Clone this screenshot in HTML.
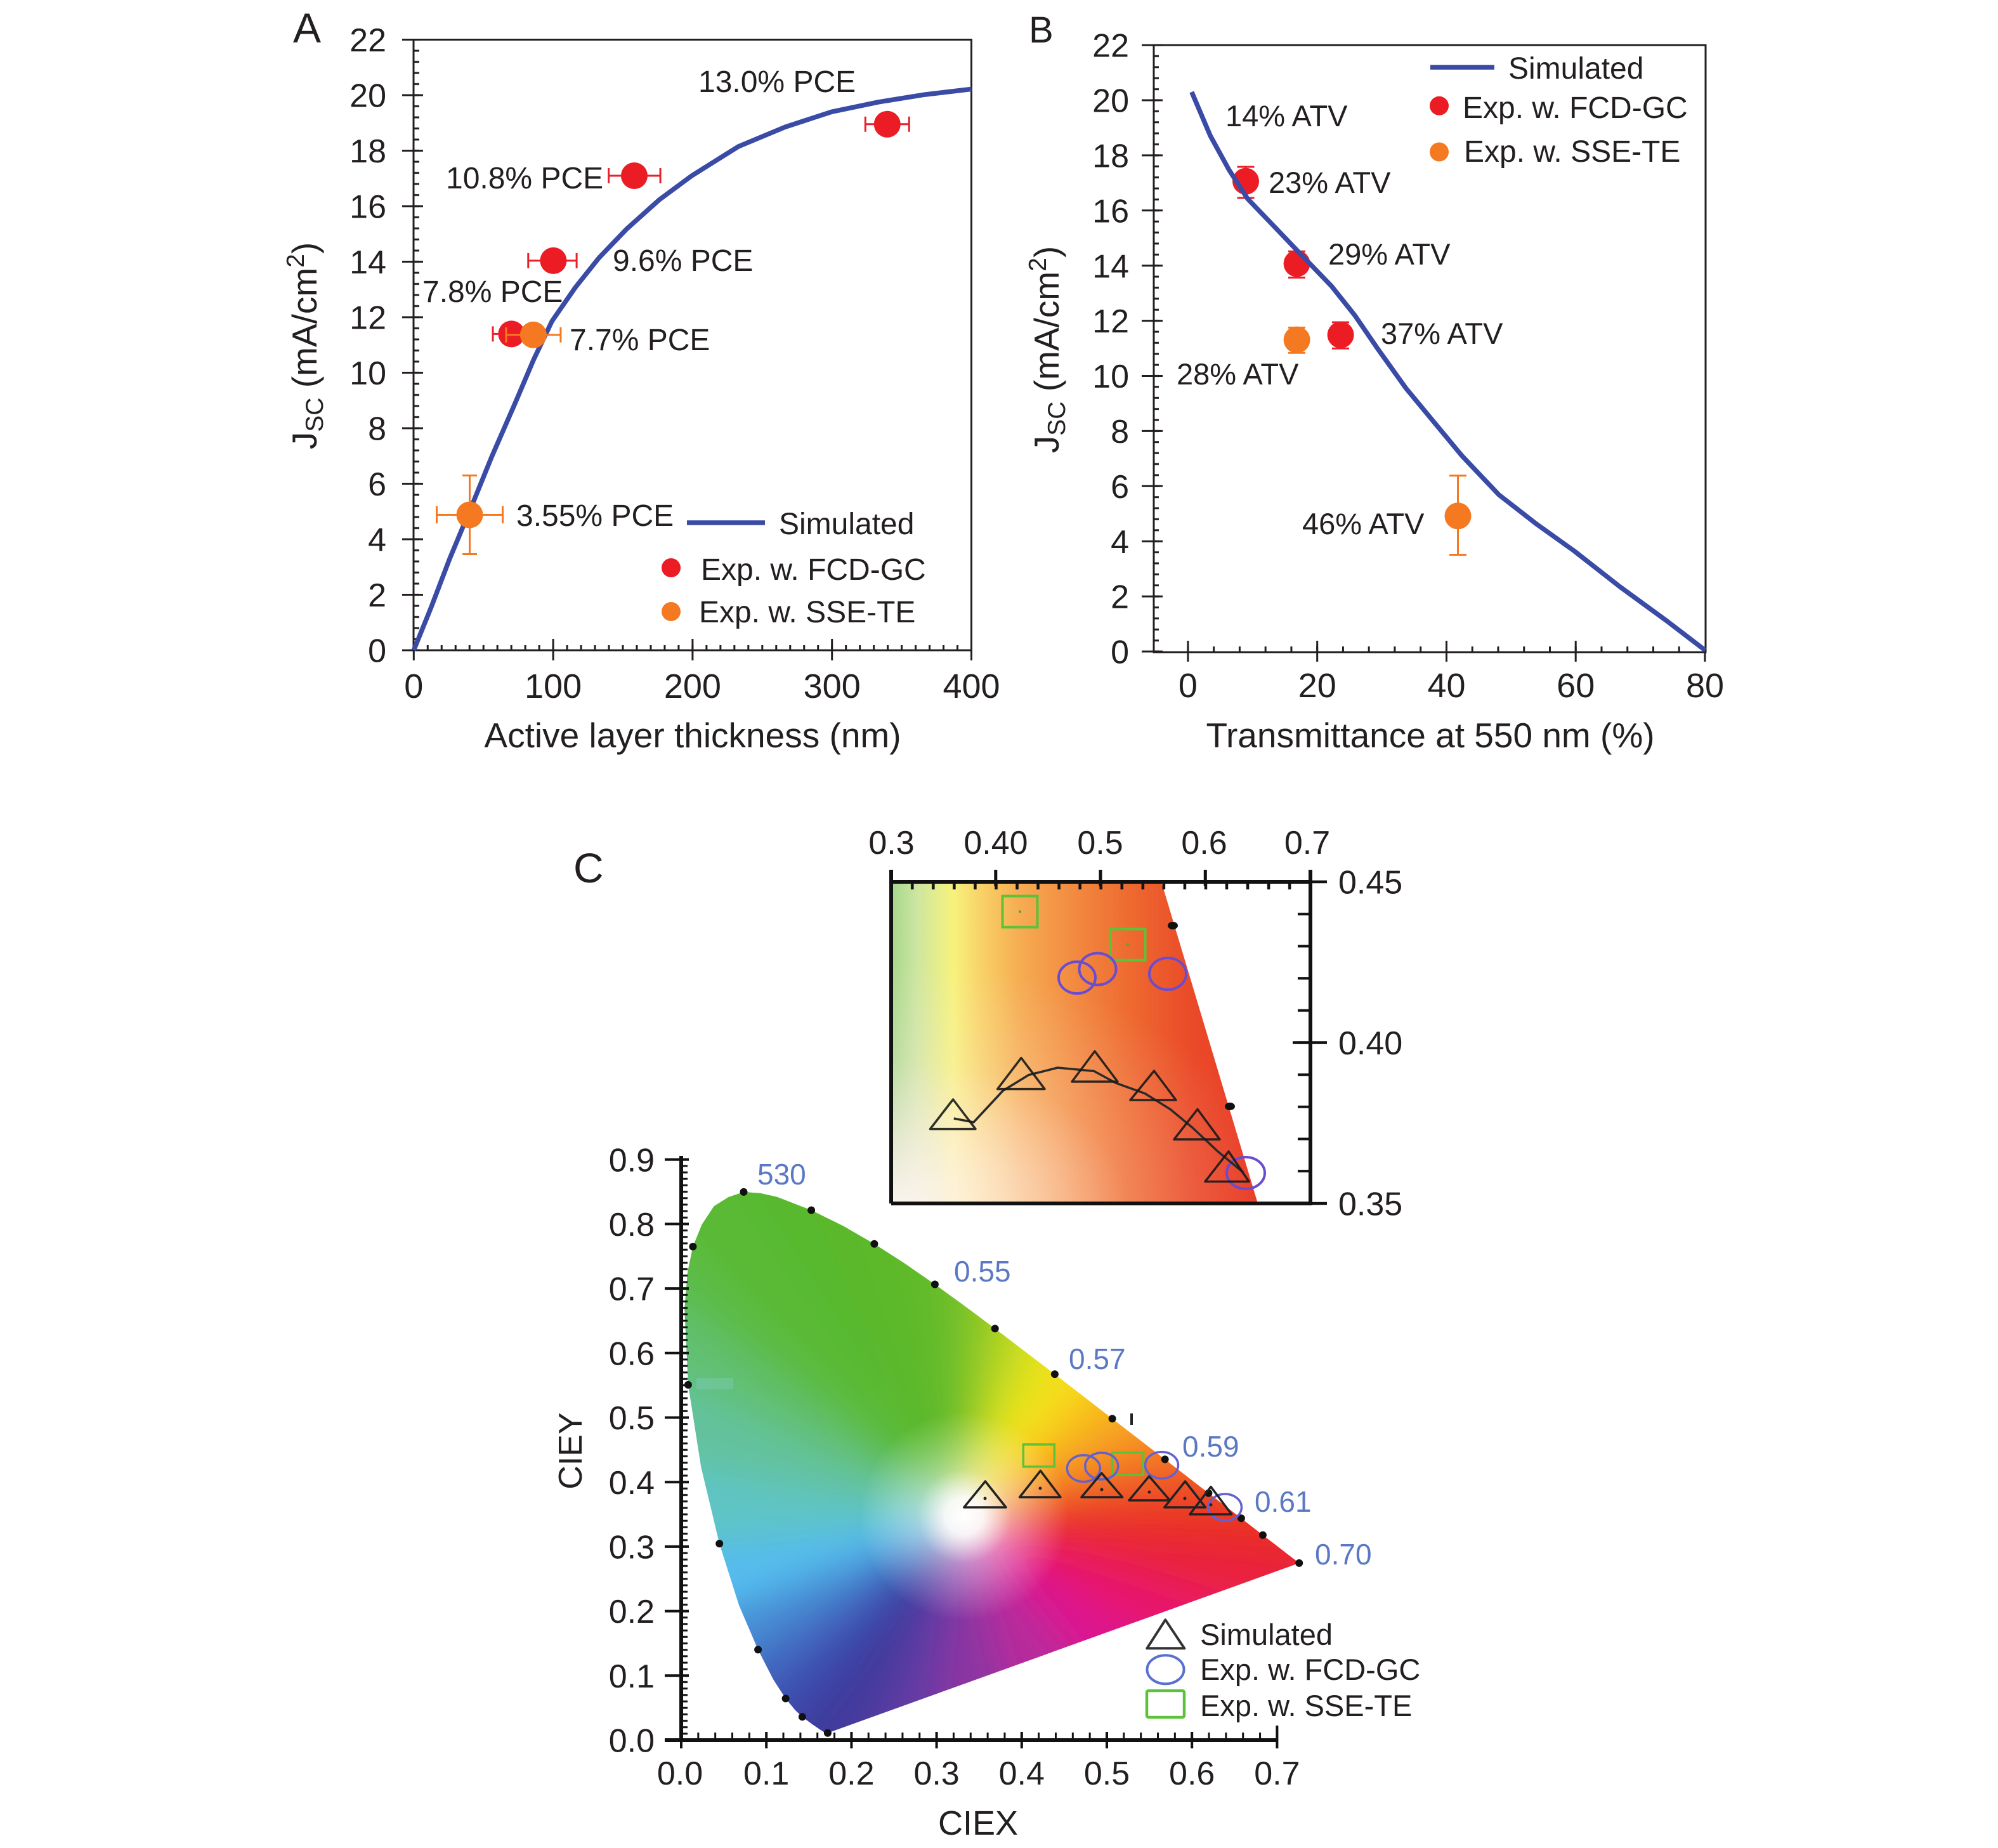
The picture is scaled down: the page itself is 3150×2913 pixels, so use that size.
<!DOCTYPE html>
<html><head><meta charset="utf-8"><style>
html,body{margin:0;padding:0;background:#fff;width:3150px;height:2913px;overflow:hidden}
svg{display:block}
</style></head><body>
<svg width="3150" height="2913" viewBox="0 0 3150 2913" xmlns="http://www.w3.org/2000/svg" font-family="'Liberation Sans', Arial, sans-serif" fill="#231f20">
<defs>
<pattern id="pAy" patternUnits="userSpaceOnUse" x="652" y="53.75" width="10" height="17.5"><rect x="0" y="7.25" width="10" height="3" fill="#231f20"/></pattern>
<pattern id="pAx" patternUnits="userSpaceOnUse" x="641.31" y="0" width="21.98" height="20"><rect x="9.49" y="0" width="3" height="20" fill="#231f20"/></pattern>
<pattern id="pBy" patternUnits="userSpaceOnUse" x="1819" y="62.41" width="10" height="17.38"><rect x="0" y="7.19" width="10" height="3" fill="#231f20"/></pattern>
<pattern id="pBx" patternUnits="userSpaceOnUse" x="1852.52" y="0" width="40.756" height="20"><rect x="18.878" y="0" width="3" height="20" fill="#231f20"/></pattern>
<pattern id="pIt" patternUnits="userSpaceOnUse" x="1388.475" y="0" width="33.05" height="20"><rect x="14.5" y="0" width="4.5" height="20" fill="#111"/></pattern>
<pattern id="pIr" patternUnits="userSpaceOnUse" x="0" y="1364.675" width="30" height="50.65"><rect x="0" y="23.5" width="30" height="4" fill="#111"/></pattern>
<pattern id="pCy" patternUnits="userSpaceOnUse" x="0" y="2737.915" width="20" height="10.17"><rect x="0" y="3.585" width="20" height="3" fill="#111"/></pattern>
<pattern id="pCx" patternUnits="userSpaceOnUse" x="1060.58" y="0" width="26.84" height="20"><rect x="11.92" y="0" width="3" height="20" fill="#111"/></pattern>
<clipPath id="loc"><polygon points="1304.9,2731.8 1301.3,2731.7 1298,2729.8 1292,2725.7 1281.7,2718.7 1264.9,2706.3 1253.7,2695.8 1238.6,2677.4 1219.3,2647.6 1195.1,2600.4 1165.1,2530.4 1134.2,2433.3 1105.2,2312.2 1084.9,2182.9 1079.2,2063.1 1084,2005 1092.4,1965 1106.5,1930.2 1125.6,1901.3 1148.3,1887 1172.5,1878.9 1198.6,1880.8 1225.4,1886.7 1279.1,1907.6 1329.8,1932.6 1378.4,1960.7 1426.5,1991.6 1473.9,2024.5 1521.3,2058.9 1568.7,2094.3 1615.9,2130.2 1662.9,2166.1 1708.9,2201.6 1753.6,2236.2 1796.4,2269.3 1836.7,2300.4 1873.4,2328.9 1905.4,2353.6 1933.5,2375.3 1956.9,2393.2 1990.9,2419.7 2012.7,2436.4 2027.4,2447.9 2036.7,2455 2048.2,2463.9"/></clipPath>
<clipPath id="insclip"><polygon points="1405,1390 1831,1390 1983,1897 1405,1897"/></clipPath>
<filter id="blr" filterUnits="userSpaceOnUse" x="700" y="1500" width="1800" height="1500"><feGaussianBlur stdDeviation="28"/></filter>
<radialGradient id="wg" gradientUnits="userSpaceOnUse" cx="1520" cy="2390" r="165">
<stop offset="0" stop-color="#fff" stop-opacity="1"/>
<stop offset="0.18" stop-color="#fff" stop-opacity="0.92"/>
<stop offset="0.45" stop-color="#fff" stop-opacity="0.42"/>
<stop offset="1" stop-color="#fff" stop-opacity="0"/>
</radialGradient>
<linearGradient id="insH" gradientUnits="userSpaceOnUse" x1="1405" y1="0" x2="1983" y2="0">
<stop offset="0" stop-color="#a6d68c"/>
<stop offset="0.07" stop-color="#cde6a0"/>
<stop offset="0.17" stop-color="#f7f27c"/>
<stop offset="0.24" stop-color="#f8d468"/>
<stop offset="0.35" stop-color="#f6ac52"/>
<stop offset="0.5" stop-color="#f28a40"/>
<stop offset="0.65" stop-color="#ee6a30"/>
<stop offset="0.82" stop-color="#ea4a28"/>
<stop offset="1" stop-color="#e83824"/>
</linearGradient>
<radialGradient id="insW" gradientUnits="userSpaceOnUse" cx="1405" cy="1900" r="620" gradientTransform="translate(1405 1900) scale(1 0.62) translate(-1405 -1900)">
<stop offset="0" stop-color="#fff6f4" stop-opacity="0.95"/>
<stop offset="0.3" stop-color="#fff0f0" stop-opacity="0.62"/>
<stop offset="0.6" stop-color="#ffecec" stop-opacity="0.2"/>
<stop offset="1" stop-color="#ffecec" stop-opacity="0"/>
</radialGradient>
</defs>

<!-- ================= PANEL A ================= -->
<text x="462" y="67" font-size="66">A</text>
<g stroke="#231f20" stroke-width="3" fill="none">
<rect x="652" y="62.5" width="879.5" height="962.5"/>
<path d="M634 1025H667M634 937.5H667M634 850H667M634 762.5H667M634 675H667M634 587.5H667M634 500H667M634 412.5H667M634 325H667M634 237.5H667M634 150H667M634 62.5H667"/>
<path d="M652.3 1025V1041M872.1 1007V1041M1091.9 1007V1041M1311.7 1007V1041M1531.5 1025V1041"/>
</g>
<rect x="652" y="64" width="9" height="960" fill="url(#pAy)"/>
<rect x="655" y="1017" width="875" height="8" fill="url(#pAx)"/>
<g font-size="52" text-anchor="end">
<text x="609" y="1043.6">0</text><text x="609" y="956.1">2</text><text x="609" y="868.6">4</text><text x="609" y="781.1">6</text><text x="609" y="693.6">8</text><text x="609" y="606.1">10</text><text x="609" y="518.6">12</text><text x="609" y="431.1">14</text><text x="609" y="343.6">16</text><text x="609" y="256.1">18</text><text x="609" y="168.6">20</text><text x="609" y="81.1">22</text>
</g>
<g font-size="54" text-anchor="middle">
<text x="652.3" y="1100">0</text><text x="872.1" y="1100">100</text><text x="1091.9" y="1100">200</text><text x="1311.7" y="1100">300</text><text x="1531.5" y="1100">400</text>
</g>
<text x="1092" y="1178" font-size="55" text-anchor="middle">Active layer thickness (nm)</text>
<text transform="translate(499,545) rotate(-90)" font-size="55" text-anchor="middle">J<tspan font-size="39" dy="10">SC</tspan><tspan dy="-10"> (mA/cm</tspan><tspan font-size="39" dy="-20">2</tspan><tspan dy="20">)</tspan></text>

<polyline fill="none" stroke="#3a4ba6" stroke-width="7.5" stroke-linejoin="round" points="652.3,1025 679.6,957.6 708.8,881.1 745.5,793.1 775,720.5 811.7,636.5 841.1,567.4 870.3,506.1 907.3,452.8 944,406.8 988,360.9 1039.4,314.9 1090.8,276.9 1164.2,230.9 1237.6,200.3 1311,176.3 1384.7,160.9 1458.1,149.1 1531.5,140.4"/>

<g stroke="#e8202a" stroke-width="3" fill="none">
<path d="M1364.3 195.8H1433.3M1364.3 183.8V207.8M1433.3 183.8V207.8"/>
<path d="M959.7 277H1041.1M959.7 265V289M1041.1 265V289"/>
<path d="M832.8 410.9H909.1M832.8 398.9V422.9M909.1 398.9V422.9"/>
<path d="M777 526.4H835.8M777 514.4V538.4"/>
</g>
<g fill="#ec1c24">
<circle cx="1398.8" cy="195.8" r="21"/>
<circle cx="1000" cy="277" r="21"/>
<circle cx="872.4" cy="410.9" r="21"/>
<circle cx="806.4" cy="526.4" r="21"/>
</g>
<g stroke="#f47920" stroke-width="3" fill="none">
<path d="M797.9 527.9H883.9M797.9 515.9V539.9M883.9 515.9V539.9"/>
<path d="M688.5 811.5H792.5M688.5 798V825M792.5 798V825M740.5 749.5V873.5M729 749.5H752M729 873.5H752"/>
</g>
<g fill="#f47920">
<circle cx="840.9" cy="527.9" r="21"/>
<circle cx="740.5" cy="811.5" r="21"/>
</g>
<g font-size="48">
<text x="1101" y="145">13.0% PCE</text>
<text x="703" y="297">10.8% PCE</text>
<text x="966" y="427">9.6% PCE</text>
<text x="666" y="476">7.8% PCE</text>
<text x="898" y="552">7.7% PCE</text>
<text x="814" y="829">3.55% PCE</text>
</g>
<line x1="1083" y1="824" x2="1206" y2="824" stroke="#3a4ba6" stroke-width="7.5"/>
<circle cx="1058" cy="895" r="15" fill="#ec1c24"/>
<circle cx="1058" cy="964" r="15" fill="#f47920"/>
<g font-size="48">
<text x="1228" y="842">Simulated</text>
<text x="1105" y="914">Exp. w. FCD-GC</text>
<text x="1102" y="981">Exp. w. SSE-TE</text>
</g>

<!-- ================= PANEL B ================= -->
<text x="1622" y="67" font-size="58">B</text>
<g stroke="#231f20" stroke-width="3" fill="none">
<rect x="1819" y="71.1" width="870" height="956.9"/>
<path d="M1800 1027H1833M1800 940.1H1833M1800 853.2H1833M1800 766.3H1833M1800 679.4H1833M1800 592.5H1833M1800 505.6H1833M1800 418.7H1833M1800 331.8H1833M1800 244.9H1833M1800 158H1833M1800 71.1H1833"/>
<path d="M1872.9 1010V1043M2076.7 1010V1043M2280.5 1010V1043M2484.2 1010V1043M2688 1028V1043"/>
</g>
<rect x="1819" y="73" width="8" height="953" fill="url(#pBy)"/>
<rect x="1850" y="1019" width="837" height="9" fill="url(#pBx)"/>
<g font-size="52" text-anchor="end">
<text x="1780" y="1045.6">0</text><text x="1780" y="958.7">2</text><text x="1780" y="871.8">4</text><text x="1780" y="784.9">6</text><text x="1780" y="698">8</text><text x="1780" y="611.1">10</text><text x="1780" y="524.2">12</text><text x="1780" y="437.3">14</text><text x="1780" y="350.4">16</text><text x="1780" y="263.5">18</text><text x="1780" y="176.6">20</text><text x="1780" y="89.7">22</text>
</g>
<g font-size="54" text-anchor="middle">
<text x="1872.9" y="1099">0</text><text x="2076.7" y="1099">20</text><text x="2280.5" y="1099">40</text><text x="2484.2" y="1099">60</text><text x="2688" y="1099">80</text>
</g>
<text x="2255" y="1178" font-size="55" text-anchor="middle">Transmittance at 550 nm (%)</text>
<text transform="translate(1669,551) rotate(-90)" font-size="55" text-anchor="middle">J<tspan font-size="39" dy="10">SC</tspan><tspan dy="-10"> (mA/cm</tspan><tspan font-size="39" dy="-20">2</tspan><tspan dy="20">)</tspan></text>

<g stroke="#e8202a" stroke-width="3" fill="none">
<path d="M1964 263V312M1950.5 263H1977.5M1950.5 312H1977.5"/>
<path d="M2044.6 396.3V437.6M2031 396.3H2058M2031 437.6H2058"/>
<path d="M2113.6 508V549.3M2100 508H2127M2100 549.3H2127"/>
</g>
<g fill="#ec1c24">
<circle cx="1964" cy="285.7" r="21"/>
<circle cx="2044.6" cy="415.5" r="21"/>
<circle cx="2113.6" cy="527.9" r="21"/>
</g>
<g stroke="#f47920" stroke-width="3" fill="none">
<path d="M2044.6 516.4V556.2M2031 516.4H2058M2031 556.2H2058"/>
<path d="M2298.5 749.8V874.5M2285 749.8H2312M2285 874.5H2312"/>
</g>
<g fill="#f47920">
<circle cx="2044.6" cy="535.6" r="21"/>
<circle cx="2298.5" cy="813.3" r="21"/>
</g>
<polyline fill="none" stroke="#3a4ba6" stroke-width="7.5" stroke-linejoin="round" points="1878.8,145 1908.2,214.1 1937.5,267.5 1966.8,313.1 2011,359.2 2055,405.2 2099.1,450.9 2135.8,496.9 2172.5,550.4 2216.3,611.6 2260.6,665.1 2304.9,718.5 2363,779.8 2422.1,825.8 2481.2,868 2554.5,925.3 2627.9,978.8 2688,1024.8"/>
<g font-size="47">
<text x="1932" y="199">14% ATV</text>
<text x="2000" y="304">23% ATV</text>
<text x="2094" y="417">29% ATV</text>
<text x="2177" y="542">37% ATV</text>
<text x="1855" y="606">28% ATV</text>
<text x="2053" y="842">46% ATV</text>
</g>
<line x1="2255" y1="106" x2="2356" y2="106" stroke="#3a4ba6" stroke-width="7.5"/>
<circle cx="2269" cy="166.8" r="15" fill="#ec1c24"/>
<circle cx="2269" cy="239.5" r="15" fill="#f47920"/>
<g font-size="48">
<text x="2378" y="124">Simulated</text>
<text x="2306" y="186">Exp. w. FCD-GC</text>
<text x="2308" y="255">Exp. w. SSE-TE</text>
</g>

<!-- ================= PANEL C ================= -->
<text x="904" y="1391" font-size="66">C</text>

<g clip-path="url(#loc)">
<g filter="url(#blr)">
<polygon points="1515,2392 1199.9,2901.7 1165.1,2882.1" fill="#3b3a9a"/>
<polygon points="1515,2392 1165.1,2882.1 1139.9,2863.5" fill="#3b3ea0"/>
<polygon points="1515,2392 1139.9,2863.5 1100.4,2820.1" fill="#3c46aa"/>
<polygon points="1515,2392 1100.4,2820.1 1071.5,2775.4" fill="#3e54b4"/>
<polygon points="1515,2392 1071.5,2775.4 1035.2,2704.6" fill="#4268c0"/>
<polygon points="1515,2392 1035.2,2704.6 990.2,2599.6" fill="#468cd4"/>
<polygon points="1515,2392 990.2,2599.6 943.8,2454" fill="#54bcee"/>
<polygon points="1515,2392 943.8,2454 900.3,2272.3" fill="#5ec4c4"/>
<polygon points="1515,2392 900.3,2272.3 869.9,2078.4" fill="#64c29c"/>
<polygon points="1515,2392 869.9,2078.4 861.3,1898.7" fill="#62c072"/>
<polygon points="1515,2392 861.3,1898.7 881.1,1751.5" fill="#5cbc46"/>
<polygon points="1515,2392 881.1,1751.5 1001.3,1622.4" fill="#5aba34"/>
<polygon points="1515,2392 1001.3,1622.4 1161.2,1665.4" fill="#58b82e"/>
<polygon points="1515,2392 1161.2,1665.4 1310.1,1745.1" fill="#5ab82c"/>
<polygon points="1515,2392 1310.1,1745.1 1453.4,1840.8" fill="#5eba2c"/>
<polygon points="1515,2392 1453.4,1840.8 1524.5,1892.4" fill="#6cbe2a"/>
<polygon points="1515,2392 1524.5,1892.4 1595.6,1945.5" fill="#8cc826"/>
<polygon points="1515,2392 1595.6,1945.5 1666.4,1999.3" fill="#bcd822"/>
<polygon points="1515,2392 1666.4,1999.3 1736.9,2053.2" fill="#e6e41e"/>
<polygon points="1515,2392 1736.9,2053.2 1805.9,2106.4" fill="#f8dc1c"/>
<polygon points="1515,2392 1805.9,2106.4 1872.9,2158.3" fill="#f8bc1e"/>
<polygon points="1515,2392 1872.9,2158.3 1937.1,2208" fill="#f6a020"/>
<polygon points="1515,2392 1937.1,2208 1997.6,2254.6" fill="#f48024"/>
<polygon points="1515,2392 1997.6,2254.6 2052.6,2297.4" fill="#f06426"/>
<polygon points="1515,2392 2052.6,2297.4 2100.6,2334.4" fill="#ee5026"/>
<polygon points="1515,2392 2100.6,2334.4 2177.9,2393.8" fill="#eb3c26"/>
<polygon points="1515,2392 2177.9,2393.8 2228.9,2433.6" fill="#e92e26"/>
<polygon points="1515,2392 2228.9,2433.6 2314.8,2499.9" fill="#e82626"/>
<polygon points="1515,2392 2314.8,2499.9 2092.5,2580" fill="#ea2040"/>
<polygon points="1515,2392 2092.5,2580 1912.5,2644.9" fill="#e8166c"/>
<polygon points="1515,2392 1912.5,2644.9 1762.5,2698.9" fill="#dc1490"/>
<polygon points="1515,2392 1762.5,2698.9 1612.5,2752.9" fill="#b82a9c"/>
<polygon points="1515,2392 1612.5,2752.9 1462.5,2807.1" fill="#8c36a2"/>
<polygon points="1515,2392 1462.5,2807.1 1327.5,2855.7" fill="#623aa4"/>
<polygon points="1515,2392 1327.5,2855.7 1199.9,2901.7" fill="#443a9e"/>
</g>
<circle cx="1520" cy="2390" r="165" fill="url(#wg)"/>
<rect x="1098" y="2172" width="58" height="18" fill="#9ad6e6" opacity="0.22"/>
</g>
<g fill="#111">
<circle cx="1304.9" cy="2731.8" r="6"/><circle cx="1264.9" cy="2706.3" r="6"/><circle cx="1238.6" cy="2677.4" r="6"/><circle cx="1195.1" cy="2600.4" r="6"/><circle cx="1134.2" cy="2433.3" r="6"/><circle cx="1084.9" cy="2182.9" r="6"/><circle cx="1092.4" cy="1965" r="6"/><circle cx="1172.5" cy="1878.9" r="6"/><circle cx="1279.1" cy="1907.6" r="6"/><circle cx="1378.4" cy="1960.7" r="6"/><circle cx="1473.9" cy="2024.5" r="6"/><circle cx="1568.7" cy="2094.3" r="6"/><circle cx="1662.9" cy="2166.1" r="6"/><circle cx="1753.6" cy="2236.2" r="6"/><circle cx="1836.7" cy="2300.4" r="6"/><circle cx="1905.4" cy="2353.6" r="6"/><circle cx="1956.9" cy="2393.2" r="6"/><circle cx="1990.9" cy="2419.7" r="6"/><circle cx="2048.2" cy="2463.9" r="6"/>
</g>
<line x1="1784" y1="2228" x2="1784" y2="2246" stroke="#222" stroke-width="4"/>

<g fill="none" stroke="#5cc23a" stroke-width="3.5">
<rect x="1613.3" y="2276.9" width="49" height="35"/>
<rect x="1753.5" y="2290" width="49" height="35"/>
</g>
<g fill="none" stroke="#6460d0" stroke-width="3.5">
<ellipse cx="1708.4" cy="2314.7" rx="26" ry="21"/>
<ellipse cx="1736.8" cy="2311" rx="26" ry="21"/>
<ellipse cx="1831.5" cy="2309.6" rx="26" ry="21"/>
<ellipse cx="1931.4" cy="2376" rx="26" ry="21"/>
</g>
<g fill="none" stroke="#222" stroke-width="3.5" stroke-linejoin="round">
<polygon points="1553.4,2335 1586,2376 1519.8,2376"/>
<polygon points="1640.4,2318.3 1672,2360 1607.6,2360"/>
<polygon points="1736.8,2322 1769.5,2360 1705,2360"/>
<polygon points="1811.7,2327 1844.4,2365 1780,2365"/>
<polygon points="1868.5,2335 1900.4,2376 1835.8,2376"/>
<polygon points="1909,2343.6 1941.7,2387 1876,2387"/>
</g>
<g fill="#222">
<circle cx="1553" cy="2362" r="2.5"/><circle cx="1640" cy="2346" r="2.5"/><circle cx="1737" cy="2348" r="2.5"/><circle cx="1812" cy="2352" r="2.5"/><circle cx="1868" cy="2362" r="2.5"/><circle cx="1909" cy="2372" r="2.5"/>
</g>

<g stroke="#111" fill="none">
<path d="M1074 1822V2746" stroke-width="6"/>
<path d="M1048 2743H2014" stroke-width="6"/>
<path stroke-width="4" d="M1048 2743H1086M1048 2641.3H1086M1048 2539.6H1086M1048 2437.9H1086M1048 2336.2H1086M1048 2234.5H1086M1048 2132.8H1086M1048 2031.1H1086M1048 1929.4H1086M1048 1827.7H1086"/>
<path stroke-width="4" d="M1074 2730V2756M1208.2 2730V2756M1342.4 2730V2756M1476.6 2730V2756M1610.8 2730V2756M1745 2730V2756M1879.2 2730V2756M2013.4 2720V2756"/>
</g>
<rect x="1074" y="1830" width="10" height="913" fill="url(#pCy)"/>
<rect x="1077" y="2731" width="937" height="12" fill="url(#pCx)"/>
<g font-size="52" text-anchor="end">
<text x="1032" y="2761.6">0.0</text><text x="1032" y="2659.9">0.1</text><text x="1032" y="2558.2">0.2</text><text x="1032" y="2456.5">0.3</text><text x="1032" y="2354.8">0.4</text><text x="1032" y="2253.1">0.5</text><text x="1032" y="2151.4">0.6</text><text x="1032" y="2049.7">0.7</text><text x="1032" y="1948">0.8</text><text x="1032" y="1846.3">0.9</text>
</g>
<g font-size="52" text-anchor="middle">
<text x="1072" y="2813">0.0</text><text x="1208.2" y="2813">0.1</text><text x="1342.4" y="2813">0.2</text><text x="1476.6" y="2813">0.3</text><text x="1610.8" y="2813">0.4</text><text x="1745" y="2813">0.5</text><text x="1879.2" y="2813">0.6</text><text x="2013.4" y="2813">0.7</text>
</g>
<text x="1542" y="2892" font-size="54" text-anchor="middle">CIEX</text>
<text transform="translate(917,2287) rotate(-90)" font-size="52" text-anchor="middle">CIEY</text>
<g font-size="46" fill="#5b78c4">
<text x="1194" y="1867">530</text>
<text x="1504" y="2020">0.55</text>
<text x="1685" y="2158">0.57</text>
<text x="1864" y="2296">0.59</text>
<text x="1978" y="2383">0.61</text>
<text x="2073" y="2466">0.70</text>
</g>
<polygon points="1837.3,2553.3 1867.3,2598.3 1808.3,2598.3" fill="none" stroke="#333" stroke-width="4" stroke-linejoin="round"/>
<ellipse cx="1837.5" cy="2631.7" rx="29" ry="22.5" fill="none" stroke="#5a70d0" stroke-width="4"/>
<rect x="1808" y="2665" width="59" height="42" rx="3" fill="none" stroke="#5cc23a" stroke-width="4.5"/>
<g font-size="47">
<text x="1892" y="2593">Simulated</text>
<text x="1892" y="2648">Exp. w. FCD-GC</text>
<text x="1892" y="2705">Exp. w. SSE-TE</text>
</g>

<!-- ================= INSET ================= -->
<g clip-path="url(#insclip)">
<rect x="1405" y="1390" width="600" height="507" fill="url(#insH)"/>
<rect x="1405" y="1390" width="600" height="507" fill="url(#insW)"/>
</g>
<g fill="#111">
<ellipse cx="1849" cy="1459" rx="8" ry="6"/>
<ellipse cx="1939" cy="1744" rx="8" ry="6"/>
</g>
<g fill="none" stroke="#5cc23a" stroke-width="4">
<rect x="1580.5" y="1412.5" width="55" height="49"/>
<rect x="1750.5" y="1464.5" width="55" height="49"/>
</g>
<g fill="#4caa30"><circle cx="1608" cy="1437" r="2"/><circle cx="1778" cy="1489" r="2"/></g>
<g fill="none" stroke="#6a4cd0" stroke-width="4">
<ellipse cx="1698" cy="1541" rx="29" ry="25"/>
<ellipse cx="1730.5" cy="1527.5" rx="29" ry="25"/>
<ellipse cx="1841" cy="1535" rx="29" ry="25"/>
<ellipse cx="1964" cy="1849" rx="30" ry="25"/>
</g>
<polyline fill="none" stroke="#2a2a2a" stroke-width="3.5" stroke-linejoin="round" points="1503.8,1763 1535,1769 1581,1719.5 1621.5,1694.6 1667.4,1683 1724.8,1688.4 1759,1707 1805,1723.6 1845,1748.5 1880,1777.5 1920,1815 1960,1848"/>
<g fill="none" stroke="#1a1a1a" stroke-width="3.5" stroke-linejoin="round" opacity="0.9">
<polygon points="1502.6,1733 1538,1779.6 1466.5,1779.6"/>
<polygon points="1610,1667.6 1647,1716.6 1572.7,1716.6"/>
<polygon points="1726,1657 1762,1705 1690,1705"/>
<polygon points="1819.5,1688 1854,1734 1782,1734"/>
<polygon points="1888,1748.5 1923,1796 1851,1796"/>
<polygon points="1937,1815 1969,1862.5 1900,1862.5"/>
</g>
<g stroke="#111" fill="none">
<path d="M1405 1371V1897M1405 1897H2069M2066 1371V1897M1405 1390H2069" stroke-width="6"/>
<path stroke-width="5" d="M1569.8 1371V1397M1735 1371V1397M1900.3 1371V1397"/>
<path stroke-width="4.5" d="M2066 1390H2092M2038 1643.5H2092M2066 1897H2092"/>
</g>
<rect x="1408" y="1390" width="656" height="12" fill="url(#pIt)"/>
<rect x="2046" y="1393" width="20" height="501" fill="url(#pIr)"/>
<g font-size="52" text-anchor="middle">
<text x="1405.5" y="1346">0.3</text><text x="1570" y="1346">0.40</text><text x="1734.5" y="1346">0.5</text><text x="1898.5" y="1346">0.6</text><text x="2061" y="1346">0.7</text>
</g>
<g font-size="52">
<text x="2110" y="1408.6">0.45</text><text x="2110" y="1662">0.40</text><text x="2110" y="1915.5">0.35</text>
</g>
</svg>
</body></html>
